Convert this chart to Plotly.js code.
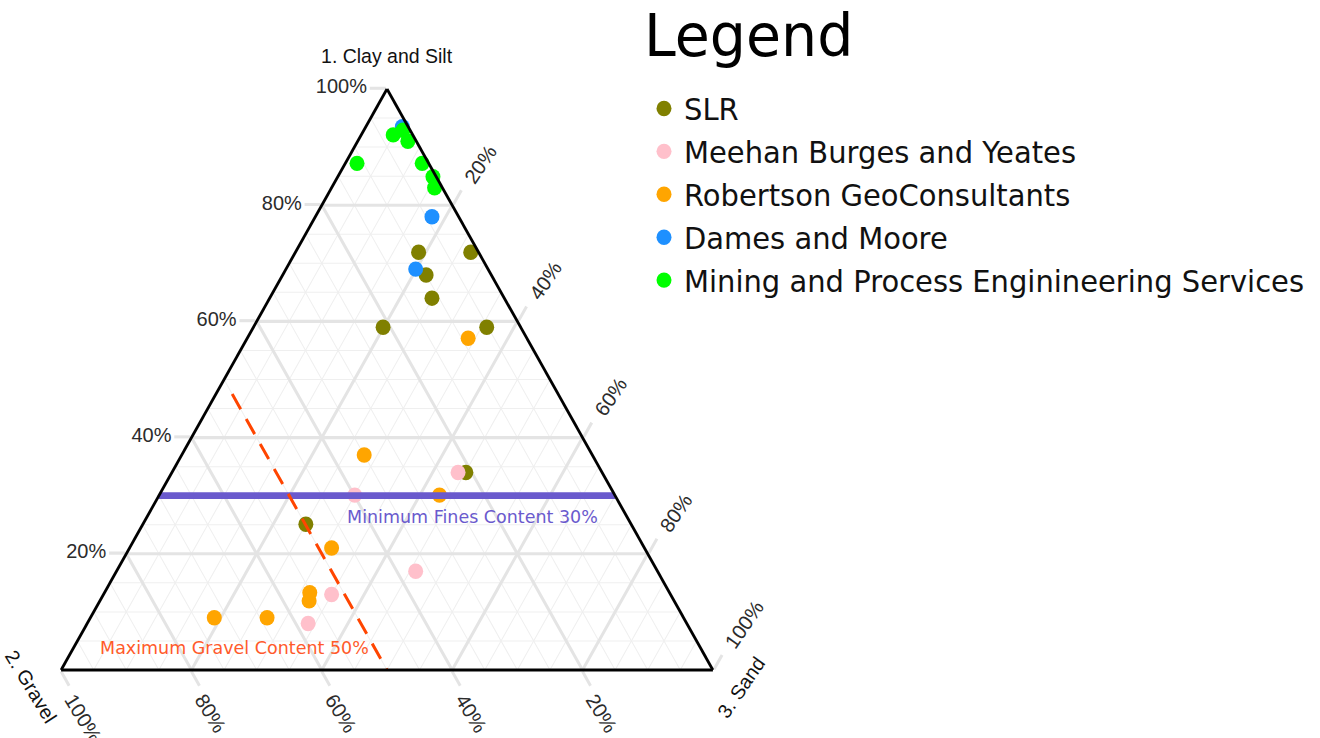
<!DOCTYPE html>
<html><head><meta charset="utf-8">
<script src="https://cdn.plot.ly/plotly-3.0.1.min.js"></script>
<style>
html,body{margin:0;padding:0;background:#fff;overflow:hidden;}
#wrap{width:1320px;height:738px;overflow:hidden;}
#chart{width:1320px;height:717px;transform:scale(1,1.0293);transform-origin:0 0;}
</style></head><body><div id="wrap"><div id="chart"></div></div>
<script>
// ---- data (percent: a = Clay and Silt, b = Gravel, c = Sand) ----
const axisTitles = ['1. Clay and Silt', '2. Gravel', '3. Sand'];
const legendTitle = 'Legend';
const tickValues = [20, 40, 60, 80, 100];
const tickLabels = ['20%', '40%', '60%', '80%', '100%'];

const seriesNames = ['SLR', 'Meehan Burges and Yeates', 'Robertson GeoConsultants', 'Dames and Moore', 'Mining and Process Engininеering Services'];
const seriesColors = ['#808000', '#ffc0cb', '#ffa500', '#1e90ff', '#00ff00'];

const slrClay   = [71.9, 71.9, 68.0, 64.0, 59.0, 59.0, 34.0, 25.1];
const slrGravel = [9.2, 1.2, 10.0, 11.1, 21.1, 5.2, 20.9, 49.9];
const slrSand   = [18.9, 26.9, 22.0, 24.9, 19.9, 35.8, 45.1, 25.0];

const mbyClay   = [34.0, 30.1, 17.0, 13.0, 8.0];
const mbyGravel = [22.1, 39.9, 37.1, 52.0, 58.1];
const mbySand   = [43.9, 30.0, 45.9, 35.0, 33.9];

const rgcClay   = [57.1, 37.0, 30.1, 21.0, 13.3, 11.9, 9.0, 9.0];
const rgcGravel = [9.0, 35.0, 26.9, 48.0, 55.2, 56.0, 72.0, 63.9];
const rgcSand   = [33.9, 28.0, 43.0, 31.0, 31.5, 32.1, 19.0, 27.1];

const dmClay    = [78.0, 69.0, 93.5];
const dmGravel  = [4.1, 11.1, 0.9];
const dmSand    = [17.9, 19.9, 5.6];

const mpesClay   = [87.2, 92.1, 92.9, 91.0, 87.2, 84.9, 83.0];
const mpesGravel = [11.0, 3.0, 1.1, 1.3, 1.0, 0.5, 1.2];
const mpesSand   = [1.8, 4.9, 6.0, 7.7, 11.8, 14.6, 15.8];

// reference lines
const minFinesLabel = 'Minimum Fines Content 30%';
const minFinesClay = [30, 30];
const minFinesGravel = [70, 0];
const minFinesSand = [0, 70];

const maxGravelLabel = 'Maximum Gravel Content 50%';
const maxGravelClay = [47.5, 0];
const maxGravelGravel = [50, 50];
const maxGravelSand = [2.5, 50];

// ---- build ----
const H = 717, W = 1320, S = 1.0293;
const px = x => x / W;
const py = y => 1 - (y / S) / H;

const seriesA = [slrClay, mbyClay, rgcClay, dmClay, mpesClay];
const seriesB = [slrGravel, mbyGravel, rgcGravel, dmGravel, mpesGravel];
const seriesC = [slrSand, mbySand, rgcSand, dmSand, mpesSand];

const traces = [];
// invisible helpers so the minor-grid and label ternaries are built
['ternary', 'ternary3'].forEach(sp => traces.push({type:'scatterternary', subplot:sp,
  a:minFinesClay, b:minFinesGravel, c:minFinesSand, mode:'lines', line:{width:0, color:'rgba(0,0,0,0)'},
  opacity:0, showlegend:false, hoverinfo:'skip'}));

seriesNames.forEach((nm, i) => {
  traces.push({
    type:'scatterternary', subplot:'ternary2', name:nm, legendgroup:'g'+i,
    a:seriesA[i], b:seriesB[i], c:seriesC[i], mode:'markers', cliponaxis:false,
    marker:{size:15, color:seriesColors[i], line:{width:0}}
  });
});
traces.push({type:'scatterternary', subplot:'ternary2', a:minFinesClay, b:minFinesGravel, c:minFinesSand,
  mode:'lines', line:{color:'#6a5acd', width:6.5}, showlegend:false, hoverinfo:'skip', cliponaxis:false});
traces.push({type:'scatterternary', subplot:'ternary2', a:maxGravelClay, b:maxGravelGravel, c:maxGravelSand,
  mode:'lines', line:{color:'#ff4500', width:3, dash:'17px,11px'}, showlegend:false, hoverinfo:'skip', cliponaxis:false});

// triangle box (image px): left 61, right 713, top 89, bottom 670
function domainAt(dx, dy){
  return {x:[(61 + dx)/W, (713 + dx)/W], y:[(H - (670 + dy)/S)/H, (H - (89 + dy)/S)/H]};
}
const dom = domainAt(0, 0);
const labelDom = domainAt(3, -6);

const minorAx = {showticklabels:false, ticks:'', showline:false, tickmode:'linear', tick0:0, dtick:5,
  showgrid:true, gridcolor:'#efefef', gridwidth:1.3, title:{text:''}};
const tickFont = {family:'Liberation Sans, Arial, sans-serif', size:20, color:'#2b2b2b'};
function majorAx(extra){
  return Object.assign({tickmode:'array', tickvals:tickValues, ticktext:tickLabels, ticks:'outside', ticklen:16,
    tickwidth:3, tickcolor:'#e4e4e4', showgrid:true, gridcolor:'#e4e4e4', gridwidth:3,
    showline:true, linecolor:'#000', linewidth:2.8, tickfont:tickFont, title:{text:''}}, extra);
}
function labelAx(extra){
  return Object.assign({tickmode:'array', tickvals:tickValues, ticktext:tickLabels, ticks:'outside', ticklen:16,
    tickwidth:1, tickcolor:'rgba(0,0,0,0)', showgrid:false, showline:false, tickfont:tickFont, title:{text:''}}, extra);
}

const titleFont = {family:'Liberation Sans, Arial, sans-serif', size:19.5, color:'#111'};
const noteFont = c => ({family:'DejaVu Sans, sans-serif', size:17.5, color:c});

const layout = {
  width:W, height:H, margin:{l:0, r:0, t:0, b:0},
  paper_bgcolor:'#fff', plot_bgcolor:'#fff',
  font:{family:'Liberation Sans, Arial, sans-serif', color:'#222'},
  ternary:{sum:100, domain:dom, bgcolor:'#fff', aaxis:minorAx, baxis:minorAx, caxis:minorAx},
  ternary2:{sum:100, domain:dom, bgcolor:'rgba(0,0,0,0)',
    aaxis:majorAx({}), baxis:majorAx({showticklabels:false}), caxis:majorAx({showticklabels:false})},
  ternary3:{sum:100, domain:labelDom, bgcolor:'rgba(0,0,0,0)',
    aaxis:labelAx({showticklabels:false}), baxis:labelAx({tickangle:58}), caxis:labelAx({tickangle:-55})},
  showlegend:true,
  legend:{x:px(644), y:1 - 80/H, xanchor:'left', yanchor:'top', bgcolor:'rgba(0,0,0,0)',
    font:{family:'DejaVu Sans, sans-serif', size:29, color:'#111'}, tracegroupgap:1},
  annotations:[
    {xref:'paper', yref:'paper', x:px(642), y:py(35), xanchor:'left', yanchor:'middle', text:legendTitle, showarrow:false,
     font:{family:'DejaVu Sans, sans-serif', size:57, color:'#000'}},
    {xref:'paper', yref:'paper', x:px(387), y:py(56), xanchor:'center', yanchor:'middle', text:axisTitles[0], showarrow:false,
     font:titleFont},
    {xref:'paper', yref:'paper', x:px(31), y:py(687), xanchor:'center', yanchor:'middle', text:axisTitles[1], showarrow:false, textangle:58,
     font:titleFont},
    {xref:'paper', yref:'paper', x:px(741), y:py(688), xanchor:'center', yanchor:'middle', text:axisTitles[2], showarrow:false, textangle:-55,
     font:titleFont},
    {xref:'paper', yref:'paper', x:px(472), y:py(517), xanchor:'center', yanchor:'middle', text:minFinesLabel, showarrow:false,
     font:noteFont('#6a5acd')},
    {xref:'paper', yref:'paper', x:px(234), y:py(647.7), xanchor:'center', yanchor:'middle', text:maxGravelLabel, showarrow:false,
     font:noteFont('#ff5a2a')}
  ]
};

Plotly.newPlot('chart', traces, layout, {displayModeBar:false, responsive:false});
</script></body></html>
